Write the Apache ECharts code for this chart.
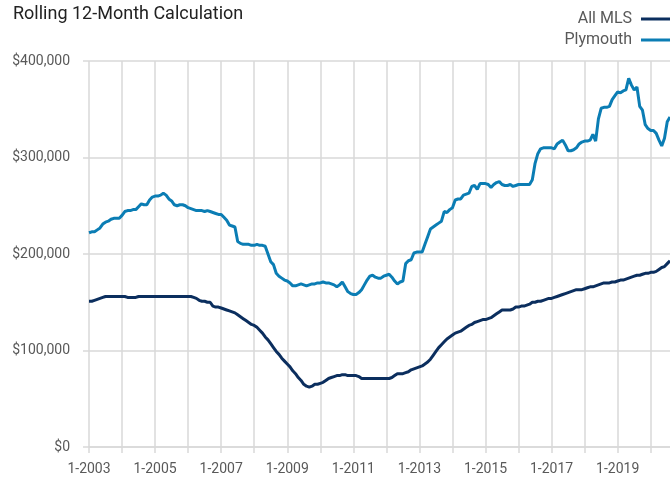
<!DOCTYPE html>
<html>
<head>
<meta charset="utf-8">
<script src="https://cdn.jsdelivr.net/npm/echarts@6/dist/echarts.min.js"></script>
<style>
  html, body { margin: 0; padding: 0; background: #ffffff; }
  #chart { width: 670px; height: 478px; }
</style>
</head>
<body>
<div id="chart"></div>
<script>
// Rolling 12-month median sale price, in thousands of dollars, one value per month from 1-2003.
const startYear = 2003;
const allMls = [
  151, 151, 152, 153, 154, 155, 156, 156, 156, 156, 156, 156,
  156, 156, 155, 155, 155, 155, 156, 156, 156, 156, 156, 156,
  156, 156, 156, 156, 156, 156, 156, 156, 156, 156, 156, 156,
  156, 156, 155, 154, 152, 151, 151, 150, 150, 146, 145, 145,
  144, 143, 142, 141, 140, 139, 137, 135, 133, 131, 129, 127,
  126, 124, 121, 118, 114, 111, 107, 103, 99, 96, 92, 89,
  86, 83, 79, 76, 72, 69, 65, 63, 62, 63, 65, 65,
  66, 67, 69, 71, 72, 73, 74, 74, 75, 75, 74, 74,
  74, 74, 73, 71, 71, 71, 71, 71, 71, 71, 71, 71,
  71, 71, 72, 74, 76, 76, 76, 77, 78, 80, 81, 82,
  83, 84, 86, 88, 91, 95, 99, 103, 106, 109, 112, 114,
  116, 118, 119, 120, 122, 124, 126, 127, 129, 130, 131, 132,
  132, 133, 134, 136, 138, 140, 142, 142, 142, 142, 143, 145,
  145, 146, 146, 147, 148, 150, 150, 151, 151, 152, 153, 154,
  154, 155, 156, 157, 158, 159, 160, 161, 162, 163, 163, 163,
  164, 165, 166, 166, 167, 168, 169, 170, 170, 170, 171, 171,
  172, 173, 173, 174, 175, 176, 177, 178, 178, 179, 180, 180,
  181, 181, 182, 184, 186, 187, 190, 193
];
const plymouth = [
  222, 223, 223, 225, 227, 231, 233, 234, 236, 237, 237, 237,
  240, 244, 245, 245, 246, 246, 249, 252, 251, 251, 256, 259,
  260, 260, 261, 263, 261, 257, 255, 251, 250, 251, 251, 250,
  248, 247, 246, 245, 245, 245, 244, 245, 244, 243, 242, 241,
  241, 238, 235, 230, 229, 228, 213, 211, 210, 210, 210, 209,
  209, 210, 209, 209, 208, 200, 192, 189, 180, 177, 175, 173,
  172, 170, 167, 167, 168, 169, 168, 167, 168, 169, 169, 170,
  170, 171, 170, 170, 169, 168, 166, 168, 171, 166, 161, 159,
  158, 158, 160, 163, 168, 173, 177, 178, 176, 175, 175, 177,
  178, 179, 176, 172, 169, 171, 172, 190, 193, 194, 201, 202,
  202, 202, 210, 218, 226, 228, 230, 232, 234, 244, 243, 246,
  248, 256, 257, 257, 261, 262, 263, 270, 271, 267, 273, 273,
  273, 272, 269, 272, 274, 275, 272, 271, 271, 272, 270, 271,
  272, 272, 272, 272, 272, 277, 294, 304, 309, 310, 310, 310,
  310, 309, 314, 316, 318, 313, 307, 307, 308, 310, 314, 316,
  317, 317, 318, 324, 317, 340, 351, 352, 352, 353, 360, 364,
  368, 367, 369, 370, 382, 375, 370, 373, 353, 349, 334, 330,
  328, 328, 325, 318, 312, 320, 337, 342
];
const seriesNames = ['All MLS', 'Plymouth'];
const yTicks = [0, 100, 200, 300, 400];

const months = allMls.map((_, i) =>
  (i % 12 + 1) + '-' + (startYear + Math.floor(i / 12)));

const fontFamily = 'Roboto, "Liberation Sans", Arial, sans-serif';
const gridColor = '#d9d9d9';

const chart = echarts.init(document.getElementById('chart'), null, { renderer: 'canvas' });
chart.setOption({
  animation: false,
  backgroundColor: '#ffffff',
  textStyle: { fontFamily },
  title: {
    text: 'Rolling 12-Month Calculation',
    left: 8,
    top: 0,
    textStyle: { fontFamily, fontSize: 18, fontWeight: 'normal', color: '#222222' }
  },
  legend: {
    data: seriesNames,
    orient: 'vertical',
    right: -6,
    top: 5,
    align: 'right',
    itemWidth: 30,
    itemHeight: 3,
    itemGap: 3,
    icon: 'rect',
    textStyle: { fontFamily, fontSize: 16, color: '#595959', padding: [0, 4, 0, 0], lineHeight: 18 }
  },
  grid: { left: 89, right: 0, top: 61, bottom: 31, containLabel: false },
  xAxis: {
    type: 'category',
    data: months,
    boundaryGap: false,
    axisLine: { show: true, lineStyle: { color: gridColor, width: 1.5 } },
    axisTick: {
      show: true,
      length: 6,
      interval: (i) => i % 12 === 0,
      lineStyle: { color: gridColor, width: 1.5 }
    },
    axisLabel: {
      interval: (i) => i % 24 === 0,
      margin: 15,
      fontFamily,
      fontSize: 14,
      color: '#595959'
    },
    splitLine: {
      show: true,
      interval: (i) => i % 12 === 0,
      lineStyle: { color: gridColor, width: 1.5 }
    }
  },
  yAxis: {
    type: 'value',
    min: yTicks[0],
    max: yTicks[yTicks.length - 1],
    interval: 100,
    axisLine: { show: false },
    axisTick: { show: true, length: 6, lineStyle: { color: gridColor, width: 1.5 } },
    axisLabel: {
      margin: 19,
      fontFamily,
      fontSize: 14,
      color: '#595959',
      formatter: (v) => '$' + (v * 1000).toLocaleString('en-US')
    },
    splitLine: { show: true, lineStyle: { color: gridColor, width: 1.5 } }
  },
  series: [
    {
      name: seriesNames[0],
      type: 'line',
      data: allMls,
      showSymbol: false,
      symbol: 'none',
      lineStyle: { color: '#0b2e5e', width: 3 },
      itemStyle: { color: '#0b2e5e' },
      z: 3
    },
    {
      name: seriesNames[1],
      type: 'line',
      data: plymouth,
      showSymbol: false,
      symbol: 'none',
      lineStyle: { color: '#0b7db4', width: 3 },
      itemStyle: { color: '#0b7db4' },
      z: 2
    }
  ]
});
</script>
</body>
</html>
